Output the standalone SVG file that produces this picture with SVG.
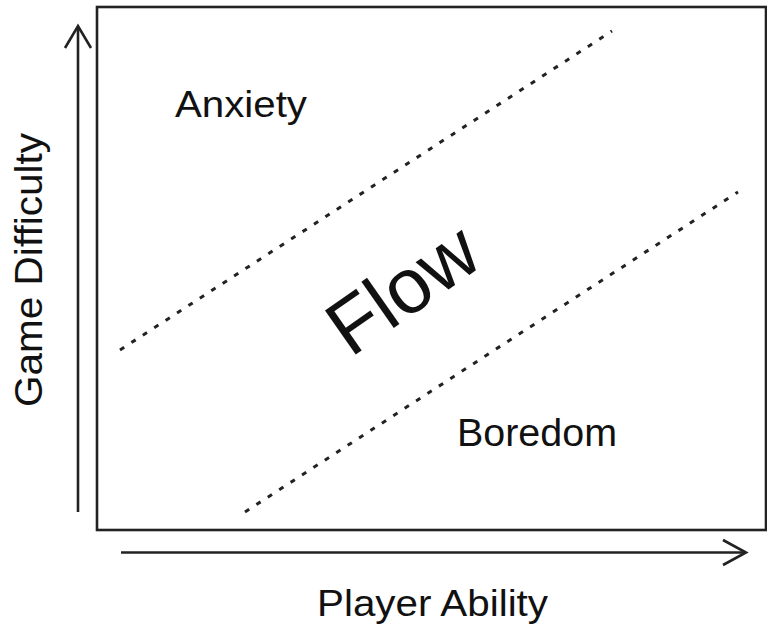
<svg xmlns="http://www.w3.org/2000/svg" width="767" height="628" viewBox="0 0 767 628">
<style>
.ln{stroke:#222;stroke-width:2.6;fill:none}
.dash{stroke:#222;stroke-width:3;fill:none;stroke-dasharray:5 8.6}
.t{font-family:"Liberation Sans",Arial,sans-serif;fill:#111}
</style>
<rect width="767" height="628" fill="#fff"/>
<g id="frame"><rect class="ln" x="97" y="7" width="669" height="523"/></g>
<g id="connectors">
<line class="ln" x1="78" y1="512" x2="78" y2="27"/>
<polyline class="ln" points="65,48 78,26 91,48"/>
<line class="ln" x1="121" y1="552.5" x2="745" y2="552.5"/>
<polyline class="ln" points="723,540 746,552.5 723,565"/>
<line class="dash" x1="120" y1="350" x2="612" y2="31"/>
<line class="dash" x1="245" y1="512" x2="738" y2="192"/>
</g>
<g id="anxiety"><text class="t" x="175" y="117" font-size="37" textLength="132" lengthAdjust="spacingAndGlyphs">Anxiety</text></g>
<g id="boredom"><text class="t" x="457" y="446" font-size="38" textLength="160" lengthAdjust="spacingAndGlyphs">Boredom</text></g>
<g id="flow"><text class="t" x="0" y="0" font-size="78" text-anchor="middle" transform="translate(418,311) rotate(-35)">Flow</text></g>
<g id="xlabel"><text class="t" x="317" y="616" font-size="36" textLength="231" lengthAdjust="spacingAndGlyphs">Player Ability</text></g>
<g id="ylabel"><text class="t" x="0" y="0" font-size="38" text-anchor="middle" textLength="274" lengthAdjust="spacingAndGlyphs" transform="translate(42,270) rotate(-90)">Game Difficulty</text></g>
</svg>
